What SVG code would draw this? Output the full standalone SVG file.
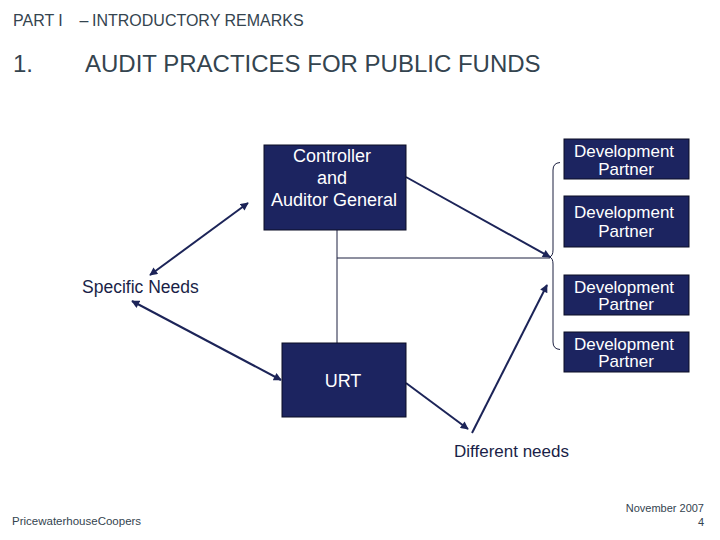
<svg xmlns="http://www.w3.org/2000/svg" width="720" height="540" viewBox="0 0 720 540">
<style>
.hdr{font-family:"Liberation Sans",Arial,sans-serif;fill:#34444f}
.box{fill:#1c2460;stroke:#0a0d24;stroke-width:1}
.bt{font-family:"Liberation Sans",Arial,sans-serif;fill:#ffffff;text-anchor:middle}
.lbl{font-family:"Liberation Sans",Arial,sans-serif;fill:#1a1f48}
.arr{stroke:#1c2458;stroke-width:2;fill:none}
.thin{stroke:#1c2040;stroke-width:1;fill:none}
</style>
<defs>
<marker id="ah" viewBox="0 0 10 10" refX="9" refY="5" markerWidth="9" markerHeight="8" markerUnits="userSpaceOnUse" orient="auto-start-reverse">
<path d="M0,0 L10,5 L0,10 Z" fill="#1c2458"/>
</marker>
</defs>
<rect width="720" height="540" fill="#ffffff"/>
<text class="hdr" font-size="16" y="26"><tspan x="13">PART I</tspan><tspan x="79.5">–</tspan><tspan x="92">INTRODUCTORY REMARKS</tspan></text>
<text class="hdr" font-size="24" y="72" x="13">1.</text>
<text class="hdr" font-size="24" y="72" x="85">AUDIT PRACTICES FOR PUBLIC FUNDS</text>
<g id="connectors">
<line class="thin" x1="337" y1="230" x2="337" y2="343"/>
<line class="thin" x1="337" y1="258" x2="550" y2="258"/>
<path class="thin" d="M560,162.5 Q553,163 553,170 L553,250 Q553,256 549.5,257 Q553,258 553,264 L553,342 Q553,349 560,349.5"/>
<line class="arr" x1="248" y1="203" x2="150" y2="275" marker-start="url(#ah)" marker-end="url(#ah)"/>
<line class="arr" x1="132" y1="301" x2="281" y2="380" marker-start="url(#ah)" marker-end="url(#ah)"/>
<line class="arr" x1="406" y1="177" x2="550" y2="257" marker-end="url(#ah)"/>
<line class="arr" x1="406" y1="383" x2="468" y2="429" marker-end="url(#ah)"/>
<line class="arr" x1="472" y1="433" x2="547" y2="285" marker-end="url(#ah)"/>
</g>
<g id="cag">
<rect class="box" x="264" y="145" width="142" height="85"/>
<text class="bt" font-size="18"><tspan x="332" y="162">Controller</tspan><tspan x="332" y="184">and</tspan><tspan x="334" y="205.5">Auditor General</tspan></text>
</g>
<g id="urt">
<rect class="box" x="282" y="343" width="124" height="74"/>
<text class="bt" font-size="18" x="343" y="387">URT</text>
</g>
<g id="dp1">
<rect class="box" x="564" y="139" width="125" height="40"/>
<text class="bt" font-size="17"><tspan x="624" y="156.5">Development</tspan><tspan x="626" y="175">Partner</tspan></text>
</g>
<g id="dp2">
<rect class="box" x="564" y="196" width="125" height="51"/>
<text class="bt" font-size="17"><tspan x="624" y="218">Development</tspan><tspan x="626" y="236.5">Partner</tspan></text>
</g>
<g id="dp3">
<rect class="box" x="564" y="275" width="125" height="40"/>
<text class="bt" font-size="17"><tspan x="624" y="292.5">Development</tspan><tspan x="626" y="310">Partner</tspan></text>
</g>
<g id="dp4">
<rect class="box" x="564" y="332" width="125" height="40"/>
<text class="bt" font-size="17"><tspan x="624" y="349.5">Development</tspan><tspan x="626" y="367">Partner</tspan></text>
</g>
<g id="specific-needs">
<text class="lbl" font-size="17.5" x="82" y="293">Specific Needs</text>
</g>
<g id="different-needs">
<text class="lbl" font-size="17" x="454" y="456.5">Different needs</text>
</g>
<text class="hdr" font-size="11.5" x="12" y="525">PricewaterhouseCoopers</text>
<text class="hdr" font-size="11" x="704" y="512" text-anchor="end">November 2007</text>
<text class="hdr" font-size="11" x="704" y="526" text-anchor="end">4</text>
</svg>
